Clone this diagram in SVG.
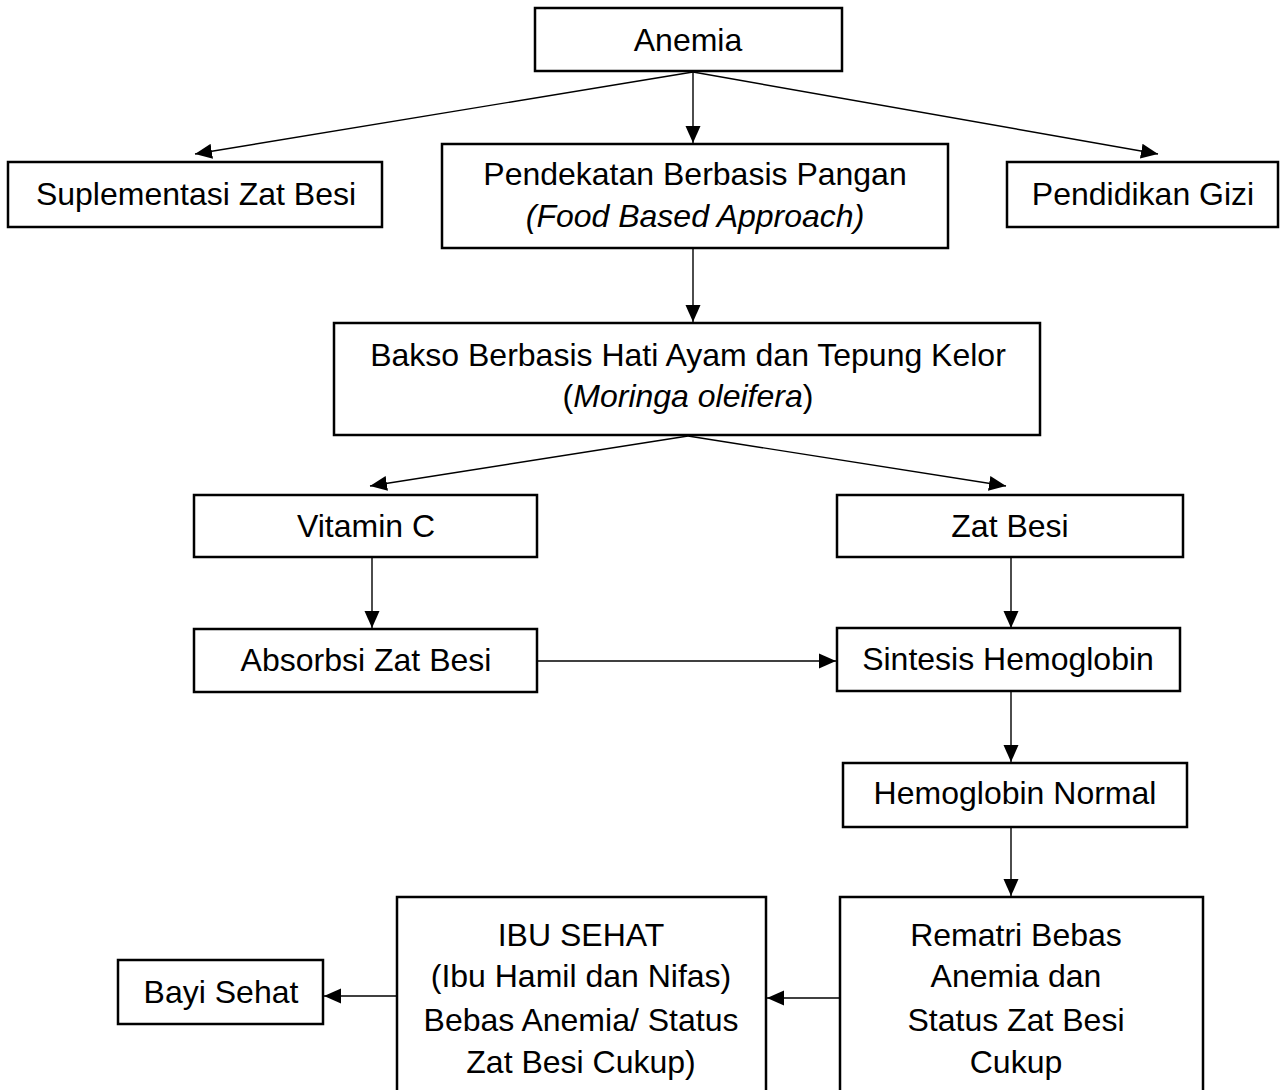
<svg xmlns="http://www.w3.org/2000/svg" width="1282" height="1090" viewBox="0 0 1282 1090">
<defs>
<marker id="arr" markerUnits="userSpaceOnUse" markerWidth="18" markerHeight="16" refX="17" refY="8" orient="auto">
<path d="M0,0.5 L17,8 L0,15.5 Z" fill="#000"/>
</marker>
<style>
.box{fill:#fff;stroke:#000;stroke-width:2.5}
.t{font-family:"Liberation Sans",Arial,sans-serif;font-size:32px;fill:#000;text-anchor:middle}
.i{font-style:italic}
.c{stroke:#000;stroke-width:1.4;fill:none;marker-end:url(#arr)}
</style>
</defs>
<rect width="1282" height="1090" fill="#fff"/>
<g id="connectors">
<line class="c" x1="693" y1="72" x2="693" y2="143"/>
<line class="c" x1="693" y1="72" x2="195" y2="154"/>
<line class="c" x1="693" y1="72" x2="1158" y2="154"/>
<line class="c" x1="693" y1="248" x2="693" y2="322"/>
<line class="c" x1="688" y1="436" x2="370" y2="486"/>
<line class="c" x1="688" y1="436" x2="1006" y2="486"/>
<line class="c" x1="372" y1="557" x2="372" y2="628"/>
<line class="c" x1="1011" y1="557" x2="1011" y2="628"/>
<line class="c" x1="537" y1="661" x2="836" y2="661"/>
<line class="c" x1="1011" y1="691" x2="1011" y2="762"/>
<line class="c" x1="1011" y1="827" x2="1011" y2="896"/>
<line class="c" x1="840" y1="998" x2="767" y2="998"/>
<line class="c" x1="396" y1="996" x2="324" y2="996"/>
</g>
<g id="n-anemia"><rect class="box" x="535" y="8" width="307" height="63"/><text class="t" x="688" y="51">Anemia</text></g>
<g id="n-suplementasi"><rect class="box" x="8" y="162" width="374" height="65"/><text class="t" x="196" y="205">Suplementasi Zat Besi</text></g>
<g id="n-pendekatan"><rect class="box" x="442" y="144" width="506" height="104"/><text class="t" x="695" y="185">Pendekatan Berbasis Pangan</text><text class="t i" x="695" y="227">(Food Based Approach)</text></g>
<g id="n-pendidikan"><rect class="box" x="1007" y="162" width="271" height="65"/><text class="t" x="1143" y="205">Pendidikan Gizi</text></g>
<g id="n-bakso"><rect class="box" x="334" y="323" width="706" height="112"/><text class="t" x="688" y="366">Bakso Berbasis Hati Ayam dan Tepung Kelor</text><text class="t" x="688" y="407">(<tspan class="i">Moringa oleifera</tspan>)</text></g>
<g id="n-vitc"><rect class="box" x="194" y="495" width="343" height="62"/><text class="t" x="366" y="537">Vitamin C</text></g>
<g id="n-zatbesi"><rect class="box" x="837" y="495" width="346" height="62"/><text class="t" x="1010" y="537">Zat Besi</text></g>
<g id="n-absorbsi"><rect class="box" x="194" y="629" width="343" height="63"/><text class="t" x="366" y="671">Absorbsi Zat Besi</text></g>
<g id="n-sintesis"><rect class="box" x="837" y="628" width="343" height="63"/><text class="t" x="1008" y="670">Sintesis Hemoglobin</text></g>
<g id="n-hbnormal"><rect class="box" x="843" y="763" width="344" height="64"/><text class="t" x="1015" y="804">Hemoglobin Normal</text></g>
<g id="n-rematri"><rect class="box" x="840" y="897" width="363" height="200"/><text class="t" x="1016" y="946">Rematri Bebas</text><text class="t" x="1016" y="987">Anemia dan</text><text class="t" x="1016" y="1031">Status Zat Besi</text><text class="t" x="1016" y="1073">Cukup</text></g>
<g id="n-ibu"><rect class="box" x="397" y="897" width="369" height="200"/><text class="t" x="581" y="946">IBU SEHAT</text><text class="t" x="581" y="987">(Ibu Hamil dan Nifas)</text><text class="t" x="581" y="1031">Bebas Anemia/ Status</text><text class="t" x="581" y="1073">Zat Besi Cukup)</text></g>
<g id="n-bayi"><rect class="box" x="118" y="960" width="205" height="64"/><text class="t" x="221" y="1003">Bayi Sehat</text></g>
</svg>
